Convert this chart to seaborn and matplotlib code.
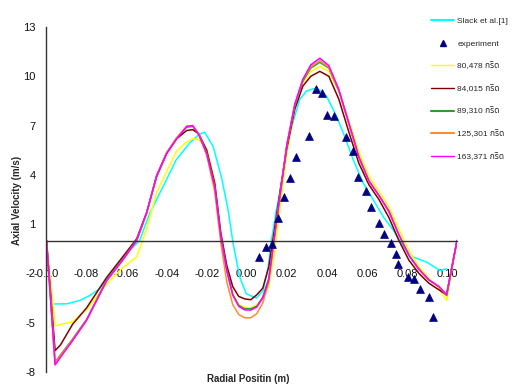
import numpy as np
import pandas as pd
import matplotlib
matplotlib.use("Agg")
import matplotlib.pyplot as plt
import seaborn as sns
from matplotlib.lines import Line2D

# ---------------- data ----------------
x_cfd = [-0.100, -0.0957, -0.093, -0.087, -0.080, -0.070, -0.062, -0.055, -0.050, -0.045,
         -0.040, -0.035, -0.030, -0.027, -0.024, -0.020, -0.016, -0.013, -0.010, -0.007,
         -0.004, -0.001, 0.002, 0.005, 0.008, 0.011, 0.014, 0.017, 0.020, 0.024,
         0.028, 0.032, 0.0365, 0.041, 0.046, 0.051, 0.056, 0.061, 0.066, 0.071,
         0.076, 0.081, 0.086, 0.091, 0.096, 0.0998, 0.105]

y_80478 = [0, -5.2, -5.1, -4.95, -4.2, -2.65, -1.65, -1.0, 0.7, 2.95,
           4.2, 5.45, 6.0, 6.2, 6.15, 5.6, 3.6, 0.5, -1.6, -3.2,
           -3.9, -4.05, -4.1, -3.9, -3.5, -2.8, -0.6, 2.4, 5.3, 8.0,
           9.6, 10.3, 10.6, 10.3, 9.1, 7.3, 5.4, 3.9, 3.0, 2.05,
           0.7, -0.6, -1.6, -2.3, -2.9, -3.65, 0]

y_84015 = [0, -6.7, -6.35, -5.1, -4.1, -2.25, -1.0, 0.1, 1.7, 3.9,
           5.3, 6.2, 6.7, 6.75, 6.5, 5.5, 3.5, 0.5, -1.5, -2.8,
           -3.4, -3.55, -3.6, -3.3, -2.9, -1.6, 0.8, 3.3, 5.6, 8.0,
           9.4, 10.0, 10.3, 10.0, 8.6, 6.6, 4.7, 3.4, 2.5, 1.4,
           0.0, -1.2, -2.0, -2.6, -3.0, -3.3, 0]

y_89310 = [0, -7.4, -6.95, -6.0, -4.8, -2.4, -1.15, 0.0, 1.65, 3.95,
           5.35, 6.25, 6.9, 6.95, 6.5, 5.35, 3.3, 0.3, -1.8, -3.3,
           -3.95, -4.15, -4.15, -4.0, -3.45, -2.3, 0.4, 3.1, 5.8, 8.2,
           9.7, 10.5, 10.85, 10.5, 9.1, 7.1, 5.05, 3.6, 2.75, 1.75,
           0.35, -0.9, -1.75, -2.4, -2.8, -3.35, 0]

y_125301 = [0, -7.45, -7.0, -6.05, -4.85, -2.45, -1.2, 0.0, 1.65, 3.95,
            5.35, 6.25, 6.95, 7.0, 6.5, 5.2, 3.0, -0.1, -2.5, -3.9,
            -4.5, -4.7, -4.7, -4.45, -3.8, -2.5, 0.3, 3.1, 5.8, 8.3,
            9.8, 10.6, 10.95, 10.55, 9.15, 7.1, 5.05, 3.6, 2.75, 1.75,
            0.35, -0.9, -1.75, -2.4, -2.8, -3.3, 0]

y_163371 = [0, -7.57, -7.1, -6.1, -4.85, -2.45, -1.2, 0.0, 1.7, 3.95,
            5.3, 6.2, 6.95, 7.0, 6.45, 5.3, 3.3, 0.3, -1.8, -3.3,
            -4.0, -4.22, -4.23, -4.05, -3.5, -2.4, 0.4, 3.1, 5.8, 8.3,
            9.8, 10.7, 11.1, 10.65, 9.2, 7.15, 5.1, 3.65, 2.75, 1.8,
            0.35, -0.9, -1.75, -2.4, -2.8, -3.3, 0]

x_slack = [-0.096, -0.090, -0.0835, -0.0785, -0.0735, -0.0702, -0.065, -0.0602, -0.0535, -0.0485,
           -0.0418, -0.0352, -0.0285, -0.024, -0.021, -0.0168, -0.0127, -0.0093, -0.0068, -0.0035,
           -0.0002, 0.0048, 0.0082, 0.0107, 0.0123, 0.0148, 0.0165, 0.0215, 0.0265, 0.0298,
           0.0348, 0.0398, 0.0448, 0.0482, 0.0532, 0.0582, 0.0632, 0.0682, 0.0732, 0.0782,
           0.0832, 0.0898, 0.0965, 0.0998]
y_slack = [-3.86, -3.85, -3.65, -3.35, -2.94, -2.4, -1.55, -0.8, 0.0, 1.65,
           3.28, 4.92, 5.94, 6.45, 6.6, 5.73, 3.9, 1.86, -0.18, -2.23,
           -3.25, -3.5, -3.04, -1.6, 0.0, 1.86, 2.88, 6.55, 8.59, 9.1,
           9.3, 8.8, 7.57, 6.55, 4.92, 3.49, 2.47, 1.45, 0.63, -0.39,
           -1.0, -1.31, -1.82, -1.72]

x_exp = [0.0062, 0.0095, 0.0128, 0.0157, 0.0187, 0.0218, 0.0248, 0.031, 0.0345, 0.0377,
         0.0402, 0.0438, 0.0498, 0.0532, 0.0558, 0.0595, 0.0623, 0.066, 0.0685, 0.0722,
         0.0743, 0.0757, 0.0803, 0.0837, 0.0865, 0.0908, 0.0932]
y_exp = [-1.0, -0.39, -0.23, 1.38, 2.63, 3.8, 5.08, 6.34, 9.25, 9.0,
         7.67, 7.6, 6.3, 5.43, 3.9, 3.04, 2.06, 1.1, 0.39, -0.15,
         -0.84, -1.45, -2.19, -2.35, -2.96, -3.45, -4.63]

labels = ["Slack et al.[1]", "experiment", "80,478 กริด", "84,015 กริด",
          "89,310 กริด", "125,301 กริด", "163,371 กริด"]
yticks = [-8, -5, -2, 1, 4, 7, 10, 13]
xticks = [-0.10, -0.08, -0.06, -0.04, -0.02, 0.00, 0.02, 0.04, 0.06, 0.08, 0.10]

# ---------------- style ----------------
sns.set_style("white")
fam = ["Liberation Sans", "Noto Sans Thai", "Loma", "Garuda", "Tlwg Typo", "Noto Sans", "DejaVu Sans"]
plt.rcParams["font.family"] = fam

colors = {"slack": "#00FFFF", "exp": "#000080", "80": "#FFFF00", "84": "#800000",
          "89": "#339933", "125": "#FF8C33", "163": "#FF00FF"}

fig = plt.figure(figsize=(5.21, 3.85), dpi=100)
ax = fig.add_axes([46.5 / 521, 13 / 385, (457 - 46.5) / 521, (372 - 27) / 385])

lw = 1.1
sns.lineplot(x=x_slack, y=y_slack, ax=ax, color=colors["slack"], lw=lw, sort=False, estimator=None)
series = [(y_80478, "80"), (y_84015, "84"), (y_89310, "89"), (y_125301, "125"), (y_163371, "163")]
for ys, key in series:
    sns.lineplot(x=x_cfd, y=ys, ax=ax, color=colors[key], lw=lw, sort=False, estimator=None)
sns.scatterplot(x=x_exp, y=y_exp, ax=ax, marker="^", color=colors["exp"], s=32,
                edgecolor=colors["exp"], linewidth=0.5, zorder=5)

ax.set_xlim(-0.1, 0.105)
ax.set_ylim(-8, 13)
ax.set_yticks(yticks)
ax.set_yticklabels([str(t) for t in yticks])
ax.set_xticks(xticks)
ax.set_xticklabels([f"{t:.2f}" for t in xticks])

for s in ["top", "right"]:
    ax.spines[s].set_visible(False)
ax.spines["bottom"].set_position(("data", 0))
ax.spines["bottom"].set_color("#333333")
ax.spines["left"].set_color("#333333")
ax.spines["bottom"].set_linewidth(1.0)
ax.spines["left"].set_linewidth(1.0)
ax.tick_params(axis="both", which="both", direction="out", length=5, width=1, color="#333333",
               labelsize=8, labelcolor="#111111")
ax.tick_params(axis="x", pad=15.5)
ax.tick_params(axis="y", pad=3)

ax.set_xlabel("")
ax.set_ylabel("")
fig.text(248 / 521, 1 - 379 / 385, "Radial Positin (m)", ha="center", va="center",
         fontsize=7, fontweight="bold")
fig.text(17 / 521, 1 - 200 / 385, "Axial Velocity (m/s)", ha="center", va="center",
         rotation=90, fontsize=7, fontweight="bold")

handles = [
    Line2D([], [], color=colors["slack"], lw=1.5),
    Line2D([], [], color=colors["exp"], marker="^", ls="none", ms=5),
    Line2D([], [], color=colors["80"], lw=1),
    Line2D([], [], color=colors["84"], lw=1),
    Line2D([], [], color=colors["89"], lw=1.5),
    Line2D([], [], color=colors["125"], lw=1.5),
    Line2D([], [], color=colors["163"], lw=1),
]
leg = fig.legend(handles, labels, loc="upper left", bbox_to_anchor=(431 / 521, 1 - 17 / 385),
                 frameon=False, fontsize=6, handlelength=2.8, handletextpad=0.35,
                 labelspacing=1.78, borderpad=0, borderaxespad=0)

fig.savefig("out.png", dpi=100)
